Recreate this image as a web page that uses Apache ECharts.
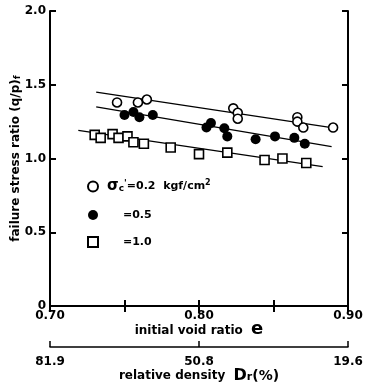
<!DOCTYPE html>
<html>
<head>
<meta charset="utf-8">
<script src="https://cdn.jsdelivr.net/npm/echarts@6/dist/echarts.min.js"></script>
<style>
  html, body { margin: 0; padding: 0; background: #fff; }
  #chart { width: 367px; height: 385px; }
</style>
</head>
<body>
<div id="chart"></div>
<script>
// sigma'c = 0.2 kgf/cm2 (open circles)
const voidRatio02 = [0.745, 0.759, 0.765, 0.823, 0.826, 0.826, 0.866, 0.866, 0.870, 0.890];
const stress02 = [1.38, 1.38, 1.40, 1.34, 1.31, 1.27, 1.28, 1.25, 1.21, 1.21];
// sigma'c = 0.5 (filled circles)
const voidRatio05 = [0.750, 0.756, 0.760, 0.769, 0.805, 0.808, 0.817, 0.819, 0.838, 0.851, 0.864, 0.871];
const stress05 = [1.295, 1.315, 1.28, 1.295, 1.21, 1.24, 1.205, 1.15, 1.13, 1.15, 1.14, 1.10];
// sigma'c = 1.0 (open squares)
const voidRatio10 = [0.730, 0.734, 0.742, 0.746, 0.752, 0.756, 0.763, 0.781, 0.800, 0.819, 0.844, 0.856, 0.872];
const stress10 = [1.16, 1.14, 1.165, 1.14, 1.15, 1.11, 1.10, 1.075, 1.03, 1.04, 0.99, 1.00, 0.97];

// fitted lines (end points)
const fit02E = [0.731, 0.889], fit02Q = [1.45, 1.21];
const fit05E = [0.731, 0.889], fit05Q = [1.35, 1.08];
const fit10E = [0.719, 0.883], fit10Q = [1.19, 0.945];

// relative density labels under the void ratio axis
const densityLabels = ['81.9', '50.8', '19.6'];

const names = ['s02', 's05', 's10'];

function pairs(xs, ys) {
  return xs.map(function (x, i) { return [x, ys[i]]; });
}

const FONT = '"DejaVu Sans", sans-serif';
const axisLineStyle = { color: '#000', width: 2 };
const tickStyle = { color: '#000', width: 2 };

const chart = echarts.init(document.getElementById('chart'));

const option = {
  backgroundColor: '#fff',
  animation: false,
  textStyle: { fontFamily: FONT, fontWeight: 'bold', color: '#000' },
  grid: [
    { left: 50, right: 19, top: 11, bottom: 79, outerBoundsMode: 'none', containLabel: false },
    { left: 50, right: 19, top: 346, height: 1, outerBoundsMode: 'none', containLabel: false }
  ],
  legend: {
    data: names,
    orient: 'vertical',
    left: 87,
    top: 179,
    padding: 0,
    itemGap: 15,
    itemWidth: 10,
    itemHeight: 10,
    formatter: function (n) {
      if (n === 's02') return '{g|σ}{sub|c}{p|\'}{t|=0.2  kgf/cm}{sup|2}';
      if (n === 's05') return '{ind|}{t|=0.5}';
      return '{ind|}{t|=1.0}';
    },
    textStyle: {
      fontFamily: FONT,
      fontWeight: 'bold',
      color: '#000',
      rich: {
        g: { fontSize: 15, fontFamily: FONT, padding: [0, 0, 0, 4] },
        sub: { fontSize: 9, fontWeight: 'bold', fontFamily: FONT, padding: [4, 0, 0, 0] },
        p: { fontSize: 9, fontWeight: 'bold', fontFamily: FONT, padding: [0, 0, 6, 0] },
        t: { fontSize: 11, fontWeight: 'bold', fontFamily: FONT },
        sup: { fontSize: 8, fontWeight: 'bold', fontFamily: FONT, padding: [0, 0, 7, 0] },
        ind: { width: 20 }
      }
    }
  },
  xAxis: [
    {
      type: 'value', gridIndex: 0, position: 'bottom',
      min: 0.70, max: 0.90, interval: 0.05,
      name: '{a|initial void ratio}  {b|e}',
      nameLocation: 'middle', nameGap: 14, nameMoveOverlap: false,
      nameTextStyle: {
        rich: {
          a: { fontSize: 12, fontWeight: 'bold', fontFamily: FONT },
          b: { fontSize: 18, fontFamily: FONT, padding: [0, 0, 3, 0] }
        }
      },
      axisLine: { lineStyle: axisLineStyle },
      axisTick: { inside: true, length: 6, lineStyle: tickStyle },
      axisLabel: {
        fontSize: 12, fontWeight: 'bold', color: '#000', margin: 4,
        formatter: function (v) {
          const r = Math.round(v * 100);
          return r % 10 === 0 ? v.toFixed(2) : '';
        }
      },
      splitLine: { show: false }
    },
    {
      type: 'value', gridIndex: 0, position: 'top',
      min: 0.70, max: 0.90, interval: 0.05,
      axisLine: { lineStyle: axisLineStyle },
      axisTick: { inside: true, length: 6, lineStyle: tickStyle },
      axisLabel: { show: false },
      splitLine: { show: false }
    },
    {
      type: 'category', gridIndex: 1, position: 'bottom',
      data: densityLabels, boundaryGap: false,
      name: '{a|relative density}  {b|D}{c|r}{d|(%)}',
      nameLocation: 'middle', nameGap: 21, nameMoveOverlap: false,
      nameTextStyle: {
        rich: {
          a: { fontSize: 12, fontWeight: 'bold', fontFamily: FONT },
          b: { fontSize: 16, fontWeight: 'bold', fontFamily: FONT },
          c: { fontSize: 11, fontWeight: 'bold', fontFamily: FONT, padding: [3, 0, 0, 0] },
          d: { fontSize: 14, fontWeight: 'bold', fontFamily: FONT }
        }
      },
      axisLine: { lineStyle: { color: '#000', width: 1.5 } },
      axisTick: { inside: true, length: 6, alignWithLabel: true, lineStyle: { color: '#000', width: 1.5 } },
      axisLabel: { fontSize: 12, fontWeight: 'bold', color: '#000', margin: 9 }
    }
  ],
  yAxis: [
    {
      type: 'value', gridIndex: 0, position: 'left',
      min: 0, max: 2, interval: 0.5,
      name: '{n|failure stress ratio (q/p)}{f|f}',
      nameLocation: 'middle', nameGap: 28, nameMoveOverlap: false,
      nameTextStyle: {
        rich: {
          n: { fontSize: 12, fontWeight: 'bold', fontFamily: FONT },
          f: { fontSize: 9, fontWeight: 'bold', fontFamily: FONT, padding: [3, 0, 0, 0] }
        }
      },
      axisLine: { lineStyle: axisLineStyle },
      axisTick: { inside: true, length: 6, lineStyle: tickStyle },
      axisLabel: {
        fontSize: 12, fontWeight: 'bold', color: '#000', margin: 4,
        formatter: function (v) { return v === 0 ? '0' : v.toFixed(1); }
      },
      splitLine: { show: false }
    },
    {
      type: 'value', gridIndex: 0, position: 'right',
      min: 0, max: 2, interval: 0.5,
      axisLine: { lineStyle: axisLineStyle },
      axisTick: { inside: true, length: 6, lineStyle: tickStyle },
      axisLabel: { show: false },
      splitLine: { show: false }
    },
    {
      type: 'value', gridIndex: 1, show: false
    }
  ],
  series: [
    {
      name: 'fit02', type: 'line', xAxisIndex: 0, yAxisIndex: 0,
      data: pairs(fit02E, fit02Q), showSymbol: false, silent: true,
      lineStyle: { color: '#000', width: 1.3 }, z: 1
    },
    {
      name: 'fit05', type: 'line', xAxisIndex: 0, yAxisIndex: 0,
      data: pairs(fit05E, fit05Q), showSymbol: false, silent: true,
      lineStyle: { color: '#000', width: 1.3 }, z: 1
    },
    {
      name: 'fit10', type: 'line', xAxisIndex: 0, yAxisIndex: 0,
      data: pairs(fit10E, fit10Q), showSymbol: false, silent: true,
      lineStyle: { color: '#000', width: 1.3 }, z: 1
    },
    {
      name: 's02', type: 'scatter', xAxisIndex: 0, yAxisIndex: 0,
      data: pairs(voidRatio02, stress02),
      symbol: 'circle', symbolSize: 9,
      itemStyle: { color: '#fff', borderColor: '#000', borderWidth: 1.6, opacity: 1 }
    },
    {
      name: 's05', type: 'scatter', xAxisIndex: 0, yAxisIndex: 0,
      data: pairs(voidRatio05, stress05),
      symbol: 'circle', symbolSize: 10,
      itemStyle: { color: '#000', borderColor: '#000', borderWidth: 0, opacity: 1 }
    },
    {
      name: 's10', type: 'scatter', xAxisIndex: 0, yAxisIndex: 0,
      data: pairs(voidRatio10, stress10),
      symbol: 'rect', symbolSize: 9,
      itemStyle: { color: '#fff', borderColor: '#000', borderWidth: 1.6, opacity: 1 }
    }
  ]
};

chart.setOption(option);
</script>
</body>
</html>
